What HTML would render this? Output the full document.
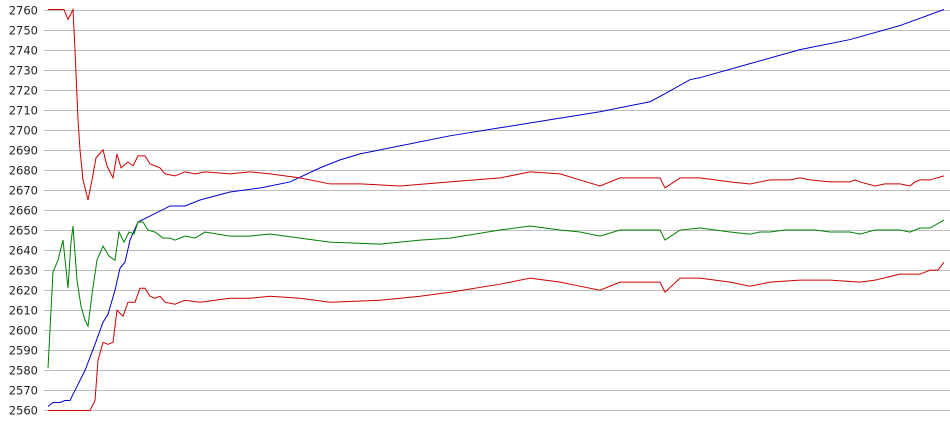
<!DOCTYPE html>
<html><head><meta charset="utf-8"><style>
html,body{margin:0;padding:0;background:#fff;}
svg{display:block;}
text{font-family:"DejaVu Sans","Liberation Sans",Arial,sans-serif;font-size:11.5px;fill:#222;}
</style></head><body>
<svg width="950" height="435" viewBox="0 0 950 435" xmlns="http://www.w3.org/2000/svg">
<g stroke="#bdbdbd" stroke-width="1">
<line x1="44" x2="950" y1="10.5" y2="10.5"/><line x1="44" x2="950" y1="30.5" y2="30.5"/><line x1="44" x2="950" y1="50.5" y2="50.5"/><line x1="44" x2="950" y1="70.5" y2="70.5"/><line x1="44" x2="950" y1="90.5" y2="90.5"/><line x1="44" x2="950" y1="110.5" y2="110.5"/><line x1="44" x2="950" y1="130.5" y2="130.5"/><line x1="44" x2="950" y1="150.5" y2="150.5"/><line x1="44" x2="950" y1="170.5" y2="170.5"/><line x1="44" x2="950" y1="190.5" y2="190.5"/><line x1="44" x2="950" y1="210.5" y2="210.5"/><line x1="44" x2="950" y1="230.5" y2="230.5"/><line x1="44" x2="950" y1="250.5" y2="250.5"/><line x1="44" x2="950" y1="270.5" y2="270.5"/><line x1="44" x2="950" y1="290.5" y2="290.5"/><line x1="44" x2="950" y1="310.5" y2="310.5"/><line x1="44" x2="950" y1="330.5" y2="330.5"/><line x1="44" x2="950" y1="350.5" y2="350.5"/><line x1="44" x2="950" y1="370.5" y2="370.5"/><line x1="44" x2="950" y1="390.5" y2="390.5"/><line x1="44" x2="950" y1="410.5" y2="410.5"/>
</g>
<g text-anchor="end">
<text x="38" y="14.5">2760</text><text x="38" y="34.5">2750</text><text x="38" y="54.5">2740</text><text x="38" y="74.5">2730</text><text x="38" y="94.5">2720</text><text x="38" y="114.5">2710</text><text x="38" y="134.5">2700</text><text x="38" y="154.5">2690</text><text x="38" y="174.5">2680</text><text x="38" y="194.5">2670</text><text x="38" y="214.5">2660</text><text x="38" y="234.5">2650</text><text x="38" y="254.5">2640</text><text x="38" y="274.5">2630</text><text x="38" y="294.5">2620</text><text x="38" y="314.5">2610</text><text x="38" y="334.5">2600</text><text x="38" y="354.5">2590</text><text x="38" y="374.5">2580</text><text x="38" y="394.5">2570</text><text x="38" y="414.5">2560</text>
</g>
<g transform="translate(0,410.5) scale(1,-2.005) translate(0,-2560)" fill="none">
<polyline vector-effect="non-scaling-stroke" stroke="#0000cc" stroke-width="1" points="48,2562 53,2564 60,2564 65,2565 70,2565 75,2570 85,2580 95,2593 103,2604 108,2608 115,2620 120,2631 125,2634 130,2645 138,2654 150,2657 170,2662 185,2662 200,2665 230,2669 260,2671 290,2674 320,2681 340,2685 360,2688 400,2692 450,2697 500,2701 550,2705 600,2709 650,2714 665,2718 690,2725 700,2726 750,2733 800,2740 850,2745 900,2752 944,2760"/>
<polyline vector-effect="non-scaling-stroke" stroke="#cc0000" stroke-width="1" points="48,2760 64,2760 68,2755 73,2760 75,2740 78,2705 80,2690 83,2675 88,2665 92,2675 96,2686 103,2690 107,2682 113,2676 117,2688 121,2681 128,2684 133,2682 138,2687 145,2687 150,2683 160,2681 165,2678 175,2677 185,2679 195,2678 205,2679 230,2678 250,2679 270,2678 300,2676 330,2673 360,2673 400,2672 450,2674 500,2676 530,2679 560,2678 580,2675 600,2672 620,2676 660,2676 665,2671 680,2676 700,2676 730,2674 750,2673 760,2674 770,2675 790,2675 800,2676 810,2675 830,2674 850,2674 855,2675 860,2674 875,2672 885,2673 900,2673 910,2672 915,2674 920,2675 930,2675 944,2677"/>
<polyline vector-effect="non-scaling-stroke" stroke="#008000" stroke-width="1" points="48,2581 53,2629 58,2635 63,2645 68,2621 71,2644 73,2652 77,2625 81,2612 85,2605 88,2602 92,2618 97,2635 103,2642 109,2637 115,2635 119,2649 124,2644 129,2649 134,2648 138,2654 143,2654 148,2650 155,2649 163,2646 170,2646 175,2645 185,2647 195,2646 205,2649 230,2647 250,2647 270,2648 300,2646 330,2644 380,2643 420,2645 450,2646 500,2650 530,2652 560,2650 580,2649 600,2647 620,2650 660,2650 665,2645 680,2650 700,2651 730,2649 750,2648 760,2649 770,2649 785,2650 800,2650 815,2650 830,2649 850,2649 860,2648 875,2650 900,2650 910,2649 915,2650 920,2651 930,2651 944,2655"/>
<polyline vector-effect="non-scaling-stroke" stroke="#cc0000" stroke-width="1" points="48,2560 90,2560 95,2565 98,2585 103,2594 108,2593 113,2594 117,2610 123,2607 128,2614 135,2614 140,2621 145,2621 150,2617 155,2616 160,2617 165,2614 175,2613 185,2615 200,2614 230,2616 250,2616 270,2617 300,2616 330,2614 380,2615 420,2617 450,2619 500,2623 530,2626 560,2624 580,2622 600,2620 620,2624 660,2624 665,2619 680,2626 700,2626 730,2624 750,2622 770,2624 800,2625 830,2625 860,2624 875,2625 900,2628 920,2628 930,2630 938,2630 944,2634"/>
</g>
</svg>
</body></html>
